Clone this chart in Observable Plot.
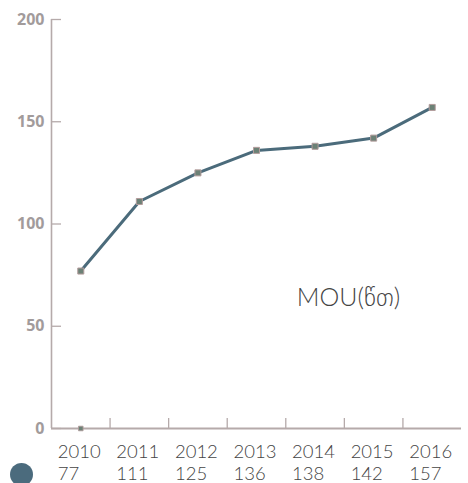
<!DOCTYPE html>
<html>
<head>
<meta charset="utf-8">
<script src="https://cdn.jsdelivr.net/npm/d3@7"></script>
<script src="https://cdn.jsdelivr.net/npm/@observablehq/plot@0.6"></script>
<style>
  html, body { margin: 0; padding: 0; background: #fff; }
  #wrap { position: relative; width: 468px; height: 483px; overflow: hidden; }
  #legend { position: absolute; left: 10px; top: 463px; width: 23px; height: 23px; border-radius: 50%; background: #4b6b7d; }
</style>
</head>
<body>
<div id="wrap"><div id="legend"></div></div>
<script>
const years = ["2010", "2011", "2012", "2013", "2014", "2015", "2016"];
const values = [77, 111, 125, 136, 138, 142, 157];
const yTicks = [0, 50, 100, 150, 200];
const baseMarkers = [{year: "2010", value: 0}];
const annotation = [{text: "MOU(წთ)", pos: 4.57, value: 64}];

const data = years.map((y, i) => ({i, year: y, value: values[i]}));
const boundaries = years.slice(1).map((y, i) => i + 0.5);
const base = baseMarkers.map(d => ({i: years.indexOf(d.year), value: d.value}));

const lineColor = "#4b6b7b";
const axisColor = "#b5aaaa";
const labelFont = "Lato, 'DejaVu Sans', sans-serif";

const chart = Plot.plot({
  width: 468,
  height: 483,
  marginTop: 19,
  marginBottom: 55,
  marginLeft: 51,
  marginRight: 7,
  x: {type: "linear", domain: [-0.5, years.length - 0.5], axis: null},
  y: {domain: [0, 200], axis: null},
  style: {fontFamily: labelFont, background: "transparent"},
  marks: [
    Plot.axisY(yTicks, {tickSize: 0, tickPadding: 7, fontSize: 16, fontWeight: "bold", fontFamily: "'Open Sans', sans-serif", fill: "#a29b9b", label: null}),
    Plot.ruleY(yTicks, {x1: -0.5, x2: -0.5, insetRight: -10, stroke: axisColor, strokeWidth: 1.3}),
    Plot.ruleX(boundaries, {x: d => d, y1: 0, y2: 0, insetTop: -10, stroke: axisColor, strokeWidth: 1.3}),
    Plot.ruleX([-0.5], {y1: 0, y2: 200, stroke: axisColor, strokeWidth: 1.6}),
    Plot.ruleY([0], {x1: -0.5, x2: years.length - 0.5, stroke: axisColor, strokeWidth: 2}),
    Plot.line(data, {x: "i", y: "value", stroke: lineColor, strokeWidth: 3}),
    Plot.dot(data, {x: "i", y: "value", symbol: "square", r: 3.4, fill: "#6c8176", stroke: "#b39c9c", strokeWidth: 1}),
    Plot.dot(base, {x: "i", y: "value", symbol: "square", r: 2.6, fill: "#6c8176", stroke: "#b39c9c", strokeWidth: 0.8}),
    Plot.text(data, {x: "i", y: 0, text: "year", dy: 24, dx: -23, textAnchor: "start", fontSize: 18.5, fontWeight: 300, fill: "#444"}),
    Plot.text(data, {x: "i", y: 0, text: d => String(d.value), dy: 45.5, dx: -23, textAnchor: "start", fontSize: 18.5, fontWeight: 300, fill: "#444"}),
    Plot.text(annotation, {x: "pos", y: "value", text: "text", fontSize: 25, fontWeight: 300, fill: "#444"})
  ]
});
document.getElementById("wrap").prepend(chart);
</script>
</body>
</html>
